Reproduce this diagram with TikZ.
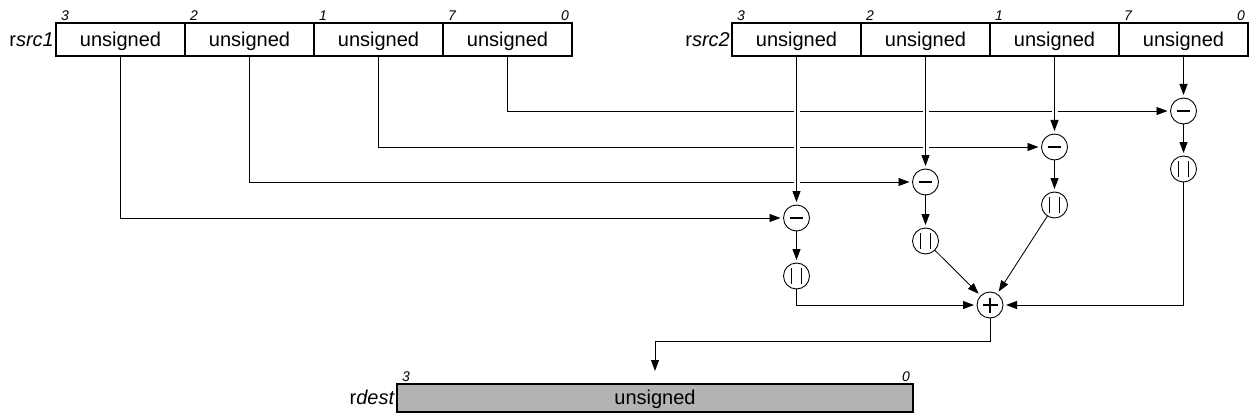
\documentclass[tikz,border=0pt]{standalone}
\usepackage{fontspec}
\setmainfont{Liberation Sans}
\usetikzlibrary{arrows.meta}
\definecolor{regfill}{RGB}{179,179,179}
\begin{document}
\begin{tikzpicture}[x=1pt,y=-1pt,
  cell/.style={draw, line width=1.1pt, minimum width=129pt, minimum height=33pt, inner sep=0pt, outer sep=0pt, text height=14.3pt, text depth=1pt, font=\fontsize{20}{23}\selectfont},
  destcell/.style={draw, fill=regfill, line width=1.1pt, minimum width=516pt, minimum height=28pt, inner sep=0pt, outer sep=0pt, text height=14.3pt, text depth=1.5pt, font=\fontsize{20}{23}\selectfont},
  bitlbl/.style={font=\fontsize{14}{16}\selectfont\itshape, inner sep=1pt},
  reglbl/.style={font=\fontsize{20}{23}\selectfont, anchor=east, inner sep=1pt, text height=14.3pt, text depth=1pt},
  opc/.style={circle, draw, line width=0.9pt, minimum size=26pt, inner sep=0pt, outer sep=0pt},
  minusop/.style={opc, path picture={\draw[line width=1.3pt] ([xshift=-6.5pt]path picture bounding box.center) -- ([xshift=6.5pt]path picture bounding box.center);}},
  absop/.style={opc, path picture={\draw[line width=1.2pt] ([xshift=-5pt,yshift=-8pt]path picture bounding box.center) -- ([xshift=-5pt,yshift=8pt]path picture bounding box.center);
     \draw[line width=1.2pt] ([xshift=5pt,yshift=-8pt]path picture bounding box.center) -- ([xshift=5pt,yshift=8pt]path picture bounding box.center);}},
  plusop/.style={opc, path picture={\draw[line width=1.3pt] ([xshift=-7.5pt]path picture bounding box.center) -- ([xshift=7.5pt]path picture bounding box.center);
     \draw[line width=1.3pt] ([yshift=-7.5pt]path picture bounding box.center) -- ([yshift=7.5pt]path picture bounding box.center);}},
  wire/.style={line width=0.85pt},
  arr/.style={wire, -{Triangle[length=11pt,width=8pt]}, shorten >=3pt},
  bridge/.style={draw=white, line width=6pt, shorten <=4pt, shorten >=6pt}
]
\useasboundingbox (0,0) rectangle (1249,417);

% source registers
\node[cell] (a3) at (120.5,39.5) {unsigned};
\node[cell] (a2) at (249.5,39.5) {unsigned};
\node[cell] (a1) at (378.5,39.5) {unsigned};
\node[cell] (a0) at (507.5,39.5) {unsigned};
\node[cell] (b3) at (796.5,39.5) {unsigned};
\node[cell] (b2) at (925.5,39.5) {unsigned};
\node[cell] (b1) at (1054.5,39.5) {unsigned};
\node[cell] (b0) at (1183.5,39.5) {unsigned};

\node[reglbl] (ra) at ([xshift=-1pt]a3.west) {r\textit{src1}};
\node[reglbl] (rb) at ([xshift=-1pt]b3.west) {r\textit{src2}};

\node[bitlbl, anchor=south west] (la3) at ([xshift=4pt,yshift=1pt]a3.north west) {3};
\node[bitlbl, anchor=south west] (la2) at ([xshift=4pt,yshift=1pt]a2.north west) {2};
\node[bitlbl, anchor=south west] (la1) at ([xshift=4pt,yshift=1pt]a1.north west) {1};
\node[bitlbl, anchor=south west] (la7) at ([xshift=4pt,yshift=1pt]a0.north west) {7};
\node[bitlbl, anchor=south east] (la0) at ([xshift=-2pt,yshift=1pt]a0.north east) {0};
\node[bitlbl, anchor=south west] (lb3) at ([xshift=4pt,yshift=1pt]b3.north west) {3};
\node[bitlbl, anchor=south west] (lb2) at ([xshift=4pt,yshift=1pt]b2.north west) {2};
\node[bitlbl, anchor=south west] (lb1) at ([xshift=4pt,yshift=1pt]b1.north west) {1};
\node[bitlbl, anchor=south west] (lb7) at ([xshift=4pt,yshift=1pt]b0.north west) {7};
\node[bitlbl, anchor=south east] (lb0) at ([xshift=-2pt,yshift=1pt]b0.north east) {0};

% operators
\node[minusop] (m1) at (1183.5,111) {};
\node[minusop] (m2) at (1054.5,147) {};
\node[minusop] (m3) at (925.5,182) {};
\node[minusop] (m4) at (796.5,218) {};
\node[absop] (v1) at (1183.5,169) {};
\node[absop] (v2) at (1054.5,205) {};
\node[absop] (v3) at (925.5,241) {};
\node[absop] (v4) at (796.5,276) {};
\node[plusop] (p) at (990,305) {};

% destination register
\node[destcell] (d) at (655,398) {unsigned};
\node[reglbl] (rd) at ([xshift=-1pt]d.west) {r\textit{dest}};
\node[bitlbl, anchor=south west] (ld3) at ([xshift=4pt,yshift=1pt]d.north west) {3};
\node[bitlbl, anchor=south east] (ld0) at ([xshift=-2pt,yshift=1pt]d.north east) {0};

\coordinate (turn) at (990,341);
\coordinate (dtop) at (655,374);

% src1 wires
\draw[arr] (a3.south) |- (m4.west);
\draw[arr] (a2.south) |- (m3.west);
\draw[arr] (a1.south) |- (m2.west);
\draw[arr] (a0.south) |- (m1.west);

% bridges and src2 wires
\draw[bridge] (b3.south) -- (m4.north);
\draw[bridge] (b2.south) -- (m3.north);
\draw[bridge] (b1.south) -- (m2.north);
\draw[arr] (b3.south) -- (m4.north);
\draw[arr] (b2.south) -- (m3.north);
\draw[arr] (b1.south) -- (m2.north);
\draw[arr] (b0.south) -- (m1.north);

% minus to abs
\draw[arr] (m1.south) -- (v1.north);
\draw[arr] (m2.south) -- (v2.north);
\draw[arr] (m3.south) -- (v3.north);
\draw[arr] (m4.south) -- (v4.north);

% abs to plus
\draw[arr] (v4.south) |- (p.west);
\draw[arr] (v1.south) |- (p.east);
\draw[arr] (v3) -- (p);
\draw[arr] (v2) -- (p);

% plus to dest
\draw[arr] (p.south) -- (turn) -| (dtop);
\end{tikzpicture}
\end{document}
